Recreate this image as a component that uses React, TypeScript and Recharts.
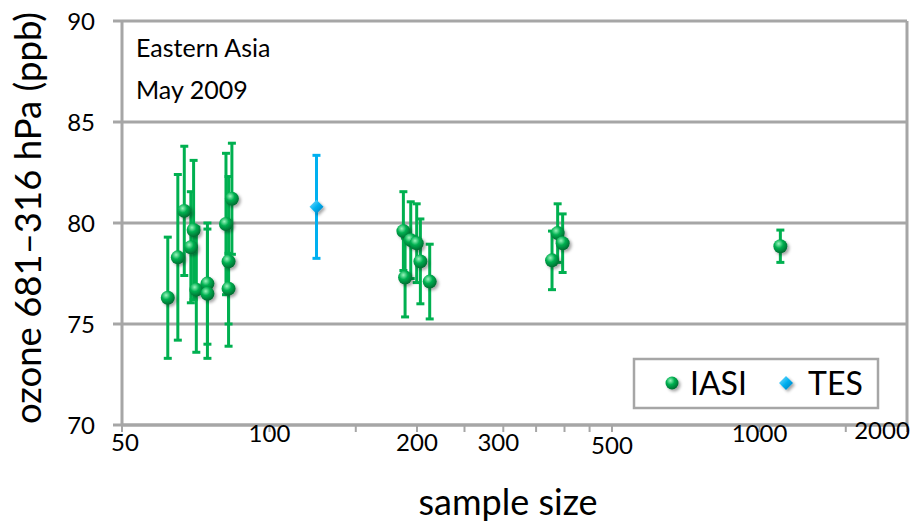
import React from 'react';
import {
  ScatterChart,
  Scatter,
  XAxis,
  YAxis,
  CartesianGrid,
  ErrorBar,
  ReferenceLine,
} from 'recharts';

// IASI: sample size, ozone (ppb), error (ppb)
const iasiSize = [62, 65, 67, 69.1, 70, 70.9, 74.7, 74.7, 81.5, 82.5, 82.5, 83.8, 187.6, 189.1, 194.2, 199.7, 203.2, 212.3, 377.2, 387.3, 396.5, 1103];
const iasiOzone = [76.3, 78.3, 80.6, 78.8, 79.65, 76.7, 77.0, 76.5, 79.95, 78.1, 76.75, 81.2, 79.6, 77.3, 79.15, 79.0, 78.1, 77.1, 78.15, 79.5, 79.0, 78.85];
const iasiErr = [3.0, 4.1, 3.2, 2.75, 3.45, 3.1, 3.0, 3.2, 3.5, 4.2, 1.75, 2.75, 1.95, 1.95, 1.9, 1.95, 2.1, 1.85, 1.45, 1.45, 1.45, 0.8];

// TES
const tesSize = [124.7];
const tesOzone = [80.8];
const tesErr = [2.55];

const xTicks = [50, 100, 150, 200, 250, 300, 350, 400, 450, 500, 1000, 1500, 2000];
const xTickLabels = [50, 100, 200, 300, 500, 1000, 2000];
const yTicks = [70, 75, 80, 85, 90];

const iasiData = iasiSize.map((n, i) => ({ size: n, ozone: iasiOzone[i], err: iasiErr[i] }));
const tesData = tesSize.map((n, i) => ({ size: n, ozone: tesOzone[i], err: tesErr[i] }));

const GREEN = '#00b050';
const BLUE = '#00b0f0';
const GRAY = '#a6a6a6';
const FONT = 'Lato, sans-serif';

// label nudges (dx, dy) relative to the tick position
const labelNudge: Record<number, [number, number]> = {
  50: [3, 9],
  100: [0, 0],
  200: [0, 9],
  300: [-5, 9],
  500: [0, 12],
  1000: [0, 0],
  2000: [-25, -3],
};

function XTick(props: any) {
  const { x, y, payload } = props;
  const v = payload.value;
  if (!xTickLabels.includes(v)) return null;
  const [dx, dy] = labelNudge[v] ?? [0, 0];
  return (
    <text x={x + dx} y={y + dy} textAnchor="middle" dominantBaseline="central" fontSize={24} fontFamily={FONT} fill="#000">
      {v}
    </text>
  );
}

function Ball(props: any) {
  const { cx, cy } = props;
  if (cx == null || cy == null) return null;
  return <circle cx={cx} cy={cy} r={7} fill="url(#ballGrad)" filter="url(#shadow)" />;
}

function Diamond(props: any) {
  const { cx, cy } = props;
  if (cx == null || cy == null) return null;
  const s = 7;
  return (
    <path
      d={`M${cx},${cy - s} L${cx + s},${cy} L${cx},${cy + s} L${cx - s},${cy} Z`}
      fill="url(#diamondGrad)"
      filter="url(#shadow)"
    />
  );
}

export default function App() {
  return (
    <div style={{ position: 'absolute', left: 0, top: 0, width: 917, height: 522, background: '#fff' }}>
      <ScatterChart width={917} height={522} margin={{ top: 21, right: 10, bottom: 0, left: 0 }}>
        <defs>
          <radialGradient id="ballGrad" cx="38%" cy="32%" r="70%">
            <stop offset="0%" stopColor="#9af5bd" />
            <stop offset="45%" stopColor="#00b050" />
            <stop offset="100%" stopColor="#00692f" />
          </radialGradient>
          <linearGradient id="diamondGrad" x1="0" y1="0" x2="1" y2="1">
            <stop offset="0%" stopColor="#8fe3ff" />
            <stop offset="50%" stopColor="#00b0f0" />
            <stop offset="100%" stopColor="#0077b3" />
          </linearGradient>
          <filter id="shadow" x="-50%" y="-50%" width="200%" height="200%">
            <feDropShadow dx="2" dy="2" stdDeviation="1.5" floodColor="#000" floodOpacity="0.35" />
          </filter>
        </defs>
        <CartesianGrid vertical={false} stroke={GRAY} strokeWidth={3} />
        <XAxis
          type="number"
          dataKey="size"
          scale="log"
          domain={[50, 2000]}
          ticks={xTicks}
          allowDataOverflow
          height={97}
          tickSize={7}
          tickMargin={0}
          axisLine={{ stroke: GRAY, strokeWidth: 3 }}
          tickLine={{ stroke: GRAY, strokeWidth: 2 }}
          tick={<XTick />}
          interval={0}
        />
        <YAxis
          type="number"
          dataKey="ozone"
          domain={[70, 90]}
          ticks={yTicks}
          width={122}
          tickSize={9}
          tickMargin={18}
          axisLine={{ stroke: GRAY, strokeWidth: 3 }}
          tickLine={{ stroke: GRAY, strokeWidth: 3 }}
          tick={{ fontSize: 24, fontFamily: FONT, fill: '#000' }}
        />
        <ReferenceLine x={2000} stroke={GRAY} strokeWidth={3} />
        <Scatter name="IASI" data={iasiData} shape={<Ball />} isAnimationActive={false}>
          <ErrorBar dataKey="err" direction="y" width={4} strokeWidth={3} stroke={GREEN} isAnimationActive={false} />
        </Scatter>
        <Scatter name="TES" data={tesData} shape={<Diamond />} isAnimationActive={false}>
          <ErrorBar dataKey="err" direction="y" width={4} strokeWidth={3} stroke={BLUE} isAnimationActive={false} />
        </Scatter>

        <text x={136} y={57} fontSize={25} fontFamily={FONT} fill="#000">Eastern Asia</text>
        <text x={136} y={99} fontSize={25} fontFamily={FONT} fill="#000">May 2009</text>
        <text
          transform="translate(41,218) rotate(-90)"
          textAnchor="middle"
          fontSize={36.5}
          fontFamily={FONT}
          fill="#000"
        >
          ozone 681–316 hPa (ppb)
        </text>
        <text x={508} y={515} textAnchor="middle" fontSize={36} fontFamily={FONT} fill="#000">
          sample size
        </text>

        <g>
          <rect x={634} y={359} width={244} height={49} fill="#fff" stroke={GRAY} strokeWidth={2.5} />
          <circle cx={672} cy={383} r={6.5} fill="url(#ballGrad)" filter="url(#shadow)" />
          <text x={690} y={395} fontSize={32} fontFamily={FONT} fill="#000">IASI</text>
          <path d="M786,376 L793,383 L786,390 L779,383 Z" fill="url(#diamondGrad)" filter="url(#shadow)" />
          <text x={808} y={395} fontSize={32} fontFamily={FONT} fill="#000">TES</text>
        </g>
      </ScatterChart>
    </div>
  );
}
